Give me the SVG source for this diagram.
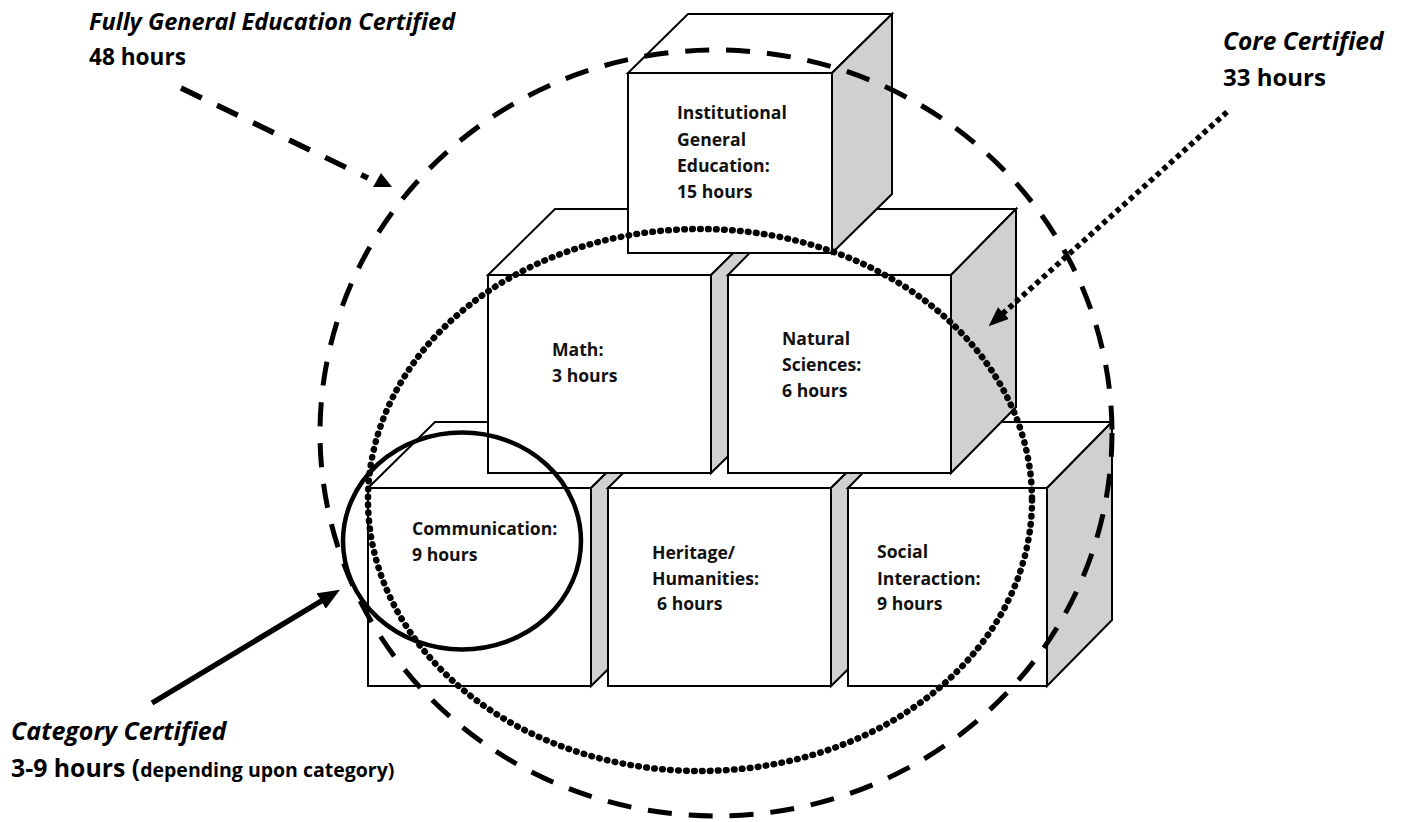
<svg xmlns="http://www.w3.org/2000/svg" width="1403" height="822" viewBox="0 0 1403 822">
<defs>
<style>
.face{fill:#fff;stroke:#000;stroke-width:2;stroke-linejoin:miter}
.side{fill:#d0d0d0;stroke:#000;stroke-width:2;stroke-linejoin:miter}
.nt{font-family:"Open Sans","Liberation Sans",sans-serif;font-weight:bold;font-size:17.6px;fill:#111}
.lt{font-family:"Open Sans","Liberation Sans",sans-serif;font-weight:bold;fill:#000}
.it{font-style:italic}
.dash{fill:none;stroke:#000;stroke-width:5;stroke-dasharray:24 17}
.dots{fill:none;stroke:#000;stroke-width:6.5;stroke-dasharray:0.6 7.4;stroke-linecap:round}
.solid{fill:none;stroke:#000;stroke-width:4.5}
</style>
<marker id="ahSolid" markerUnits="userSpaceOnUse" viewBox="0 0 22 18" markerWidth="22" markerHeight="18" refX="8" refY="9" orient="auto">
<path d="M0,0 L22,9 L0,18 z" fill="#000"/>
</marker>
<marker id="ahDot" markerUnits="userSpaceOnUse" viewBox="0 0 20 16" markerWidth="20" markerHeight="16" refX="6" refY="8" orient="auto">
<path d="M0,0 L20,8 L0,16 z" fill="#000"/>
</marker>
</defs>
<rect width="1403" height="822" fill="#fff"/>

<!-- bottom row -->
<g id="communication">
<polygon class="face" points="368,488 435,422 658,422 591,488"/>
<polygon class="side" points="591,488 658,422 658,620 591,686"/>
<rect class="face" x="368" y="488" width="223" height="198"/>
<text class="nt" x="412" y="535">Communication:</text>
<text class="nt" x="412" y="561">9 hours</text>
</g>
<g id="heritage">
<polygon class="face" points="608,488 675,422 898,422 831,488"/>
<polygon class="side" points="831,488 898,422 898,620 831,686"/>
<rect class="face" x="608" y="488" width="223" height="198"/>
<text class="nt" x="652" y="559">Heritage/</text>
<text class="nt" x="652" y="585">Humanities:</text>
<text class="nt" x="657" y="610">6 hours</text>
</g>
<g id="social">
<polygon class="face" points="848,488 913,422 1112,422 1047,488"/>
<polygon class="side" points="1047,488 1112,422 1112,620 1047,686"/>
<rect class="face" x="848" y="488" width="199" height="198"/>
<text class="nt" x="877" y="558">Social</text>
<text class="nt" x="877" y="585">Interaction:</text>
<text class="nt" x="877" y="610">9 hours</text>
</g>

<!-- middle row -->
<g id="math">
<polygon class="face" points="488,275 555,209 778,209 711,275"/>
<polygon class="side" points="711,275 778,209 778,407 711,473"/>
<rect class="face" x="488" y="275" width="223" height="198"/>
<text class="nt" x="552" y="356">Math:</text>
<text class="nt" x="552" y="382">3 hours</text>
</g>
<g id="natural-sciences">
<polygon class="face" points="728,275 793,209 1016,209 951,275"/>
<polygon class="side" points="951,275 1016,209 1016,407 951,473"/>
<rect class="face" x="728" y="275" width="223" height="198"/>
<text class="nt" x="782" y="345">Natural</text>
<text class="nt" x="782" y="371">Sciences:</text>
<text class="nt" x="782" y="397">6 hours</text>
</g>

<!-- top -->
<g id="institutional">
<polygon class="face" points="628,73 688,14 892,14 832,73"/>
<polygon class="side" points="832,73 892,14 892,194 832,253"/>
<rect class="face" x="628" y="73" width="204" height="180"/>
<text class="nt" x="677" y="119">Institutional</text>
<text class="nt" x="677" y="146">General</text>
<text class="nt" x="677" y="172">Education:</text>
<text class="nt" x="677" y="198">15 hours</text>
</g>

<g id="connectors">
<ellipse class="dash" cx="716" cy="433" rx="396" ry="383"/>
<ellipse class="dots" cx="700" cy="500" rx="332" ry="271"/>
<ellipse class="solid" cx="462" cy="541" rx="119" ry="108.5"/>
<line x1="181" y1="88" x2="368" y2="178" stroke="#000" stroke-width="5.5" stroke-dasharray="23 17"/>
<polygon points="381,173 373,187 392,187" fill="#000"/>
<line x1="1227" y1="112" x2="999" y2="317" stroke="#000" stroke-width="5.5" stroke-dasharray="5 4" marker-end="url(#ahDot)"/>
<line x1="152" y1="703" x2="328" y2="597" stroke="#000" stroke-width="5.5" marker-end="url(#ahSolid)"/>
</g>

<g id="label-fully">
<text class="lt it" x="89" y="30" font-size="23.5">Fully General Education Certified</text>
<text class="lt" x="89" y="65" font-size="22.6">48 hours</text>
</g>
<g id="label-core">
<text class="lt it" x="1223" y="50" font-size="24.5">Core Certified</text>
<text class="lt" x="1223" y="86" font-size="24">33 hours</text>
</g>
<g id="label-category">
<text class="lt it" x="11" y="740" font-size="25">Category Certified</text>
<text class="lt" x="11" y="777" font-size="24.8">3-9 hours (<tspan font-size="19.5">depending upon category)</tspan></text>
</g>
</svg>
